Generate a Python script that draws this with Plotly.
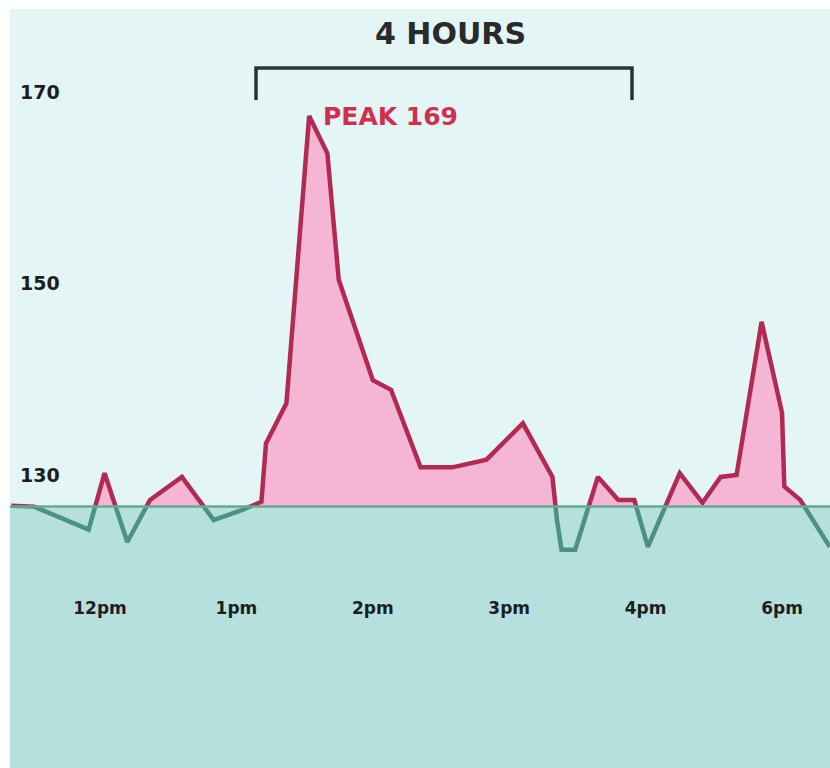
import plotly.graph_objects as go

# ---- data ----
minutes_after_noon = [-39, -29, -5, 2, 12, 22, 36, 50, 62, 71, 73, 82, 92, 100, 105,
                      120, 128, 141, 155, 170, 186, 199, 201, 203, 209, 219, 228, 235,
                      241, 255, 265, 273, 280, 291, 300, 301, 308, 321]
heart_rate = [126.8, 126.7, 124.3, 130.2, 123.0, 127.4, 129.8, 125.3, 126.3, 127.2,
              133.3, 137.5, 167.5, 163.6, 150.4, 139.9, 138.9, 130.8, 130.8, 131.6,
              135.4, 129.8, 125.3, 122.2, 122.2, 129.8, 127.4, 127.4, 122.5, 130.2,
              127.1, 129.8, 130.0, 146.0, 136.5, 128.8, 127.4, 122.5]
baseline = 126.7
tick_minutes = [0, 60, 120, 180, 240, 300]
tick_labels = ["12pm", "1pm", "2pm", "3pm", "4pm", "6pm"]
y_ticks = [130, 150, 170]
peak_label = "PEAK 169"
span_label = "4 HOURS"

# ---- styling ----
BG = "#e4f5f6"
TEAL_AREA = "#b5e0de"
BASE_LINE = "#6aa894"
CRIMSON = "#b02a52"
PINK = "#f5b6d6"
TEAL_LINE = "#4b9187"
TEXT = "#1e1e1e"
FONT = "DejaVu Sans"

y_min, y_max = 99.4, 178.67
x_min, x_max = -39.6, 321.1
fb = (baseline - y_min) / (y_max - y_min)

fig = go.Figure()
# above-baseline part (clipped to the upper subplot)
fig.add_trace(go.Scatter(
    x=minutes_after_noon, y=heart_rate, yaxis="y2", mode="lines",
    line=dict(color=CRIMSON, width=4.5), fill="tozeroy", fillcolor=PINK,
    hoverinfo="skip", showlegend=False))
# below-baseline part (clipped to the lower subplot)
fig.add_trace(go.Scatter(
    x=minutes_after_noon, y=heart_rate, yaxis="y", mode="lines",
    line=dict(color=TEAL_LINE, width=4.5),
    hoverinfo="skip", showlegend=False))

W, H = 830, 768
ml, mt = 10, 9
pw, ph = W - ml, H - mt


def px_x(p):
    return (p - ml) / pw


def px_y(p):
    return 1 - (p - mt) / ph


shapes = [
    dict(type="rect", xref="paper", yref="paper", x0=0, x1=1, y0=0, y1=1,
         fillcolor=BG, line=dict(width=0), layer="below"),
    dict(type="rect", xref="paper", yref="paper", x0=0, x1=1, y0=0, y1=fb,
         fillcolor=TEAL_AREA, line=dict(width=0), layer="below"),
    dict(type="line", xref="paper", yref="paper", x0=0, x1=1, y0=fb, y1=fb,
         line=dict(color=BASE_LINE, width=2.5), layer="above"),
    dict(type="path", xref="paper", yref="paper",
         path="M {a},{b} L {a},{t} L {c},{t} L {c},{b}".format(
             a=px_x(256), c=px_x(632), t=px_y(68), b=px_y(100)),
         line=dict(color="#2e3232", width=3.5)),
]

annotations = [
    dict(text=span_label, xref="paper", yref="paper", x=px_x(450), y=px_y(33),
         xanchor="center", yanchor="middle", showarrow=False,
         font=dict(family=FONT, size=30, color="#2a2a2a", weight="bold")),
    dict(text=peak_label, xref="paper", yref="paper", x=px_x(321), y=px_y(116),
         xanchor="left", yanchor="middle", showarrow=False,
         font=dict(family=FONT, size=25, color="#d0304f", weight="bold")),
]

fig.update_layout(
    width=W, height=H,
    margin=dict(l=ml, r=0, t=mt, b=0),
    paper_bgcolor="white", plot_bgcolor="rgba(0,0,0,0)",
    showlegend=False,
    shapes=shapes, annotations=annotations,
    xaxis=dict(range=[x_min, x_max], domain=[0, 1], anchor="free",
               position=px_y(596),
               tickvals=tick_minutes, ticktext=tick_labels,
               showgrid=False, zeroline=False, showline=False, ticks="",
               tickfont=dict(family=FONT, size=17, color=TEXT, weight="bold")),
    yaxis=dict(range=[y_min, baseline], domain=[0, fb], visible=False,
               showgrid=False, zeroline=False),
    yaxis2=dict(range=[baseline, y_max], domain=[fb, 1], anchor="free", position=0,
                tickvals=y_ticks, ticktext=[str(v) for v in y_ticks],
                ticklabelposition="inside", ticklabelstandoff=6,
                showgrid=False, zeroline=False, showline=False, ticks="",
                tickfont=dict(family=FONT, size=19, color=TEXT, weight="bold")),
)

fig.write_html(
    "out.html",
    config={"displayModeBar": False},
    post_script="document.body.style.margin='0';"
                "document.body.style.overflow='hidden';"
                "document.documentElement.style.overflow='hidden';",
)
